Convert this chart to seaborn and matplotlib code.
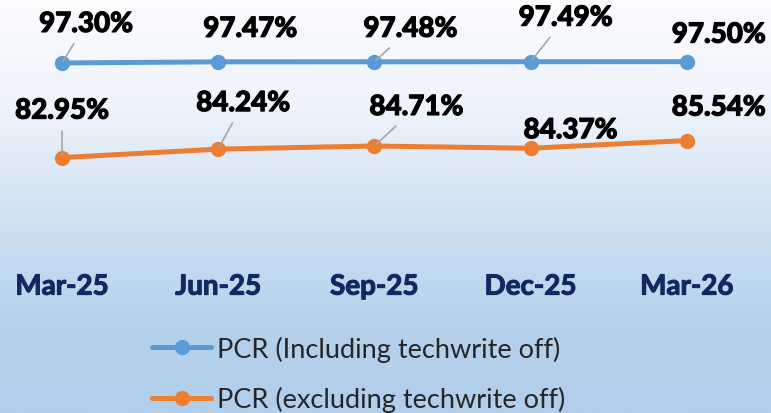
import numpy as np
import pandas as pd
import matplotlib
matplotlib.use("Agg")
import matplotlib.pyplot as plt
import matplotlib.patheffects as pe
from matplotlib.colors import LinearSegmentedColormap
import seaborn as sns

# dati
quarters = ["Mar-25", "Jun-25", "Sep-25", "Dec-25", "Mar-26"]
pcr_incl = [97.30, 97.47, 97.48, 97.49, 97.50]
pcr_excl = [82.95, 84.24, 84.71, 84.37, 85.54]
series_names = ["PCR (Including techwrite off)", "PCR (excluding techwrite off)"]

df = pd.DataFrame({
    "quarter": quarters * 2,
    "pcr": pcr_incl + pcr_excl,
    "series": [series_names[0]] * 5 + [series_names[1]] * 5,
})

sns.set_style("white")
plt.rcParams['font.family'] = ['Lato', 'DejaVu Sans']

fig = plt.figure(figsize=(7.71, 4.14), dpi=100)

# sfondo sfumato (bianco -> azzurro)
bg = fig.add_axes([0, 0, 1, 1], zorder=-10)
cmap = LinearSegmentedColormap.from_list("bg", [
    (0.0, "#fbfcfe"), (0.25, "#eff4fb"), (0.55, "#cde0f2"),
    (0.8, "#b4d1eb"), (1.0, "#b1cfea")])
bg.imshow(np.linspace(0, 1, 256).reshape(-1, 1), aspect="auto", cmap=cmap,
          extent=[0, 1, 0, 1], origin="upper")
bg.axis("off")

ax = fig.add_axes([0, 0.4106, 0.992, 0.5894])
ax.patch.set_alpha(0)

palette = {series_names[0]: "#5b9bd5", series_names[1]: "#ed7d31"}
sns.lineplot(data=df, x="quarter", y="pcr", hue="series", palette=palette,
             marker="o", markersize=11, markeredgewidth=0, linewidth=3.6,
             sort=False, ax=ax, legend=True)

ax.set_xlabel("")
ax.set_ylabel("")
ax.set_yticks([])
for s in ["top", "right", "left"]:
    ax.spines[s].set_visible(False)
ax.spines["bottom"].set_color("#d9d9d9")
ax.spines["bottom"].set_linewidth(1.4)

ax.set_xticks(range(len(quarters)))
ax.set_xticklabels(quarters, fontsize=20, fontweight="bold", color="#0f2a62")
ax.tick_params(axis="x", which="major", length=0, pad=22)
ax.set_xticks(np.arange(-0.5, 5, 1), minor=True)
ax.tick_params(axis="x", which="minor", length=7, width=1.4, color="#d9d9d9",
               direction="out")
# limiti dopo set_xticks, altrimenti vengono allargati
ax.set_xlim(-0.397, 4.5)
ax.set_ylim(70, 107)
for t in ax.get_xticklabels():
    t.set_path_effects([pe.withStroke(linewidth=0.8, foreground="#0f2a62")])

# etichette dei valori (offset in pixel) e linee guida
offs_incl = [(24, 39), (32, 33), (36, 33), (35, 44), (32, 27)]
lead_incl = [True, False, True, True, False]
offs_excl = [(0, 47), (25, 46), (42, 39), (40, 18), (32, 33)]
lead_excl = [True, True, True, False, False]

for vals, offs, leads in [(pcr_incl, offs_incl, lead_incl),
                          (pcr_excl, offs_excl, lead_excl)]:
    for i, v in enumerate(vals):
        ap = dict(arrowstyle="-", color="#a6a6a6", lw=1.2, shrinkA=3, shrinkB=2) if leads[i] else None
        txt = ax.annotate(f"{v:.2f}%", xy=(i, v), xytext=offs[i], textcoords="offset pixels",
                          ha="center", va="center", fontsize=20, fontweight="black",
                          color="black", arrowprops=ap, zorder=5)
        txt.set_path_effects([pe.withStroke(linewidth=0.8, foreground="black")])

ax.get_legend().remove()
handles, labels = ax.get_legend_handles_labels()
leg = fig.legend(handles, labels, loc="center", bbox_to_anchor=(0.465, 0.094),
                 frameon=False, fontsize=19.5, handlelength=2.2, handletextpad=0.2,
                 labelspacing=0.9, borderpad=0.2)
for line in leg.get_lines():
    line.set_linewidth(3.6)

fig.savefig("out.png", dpi=100)
